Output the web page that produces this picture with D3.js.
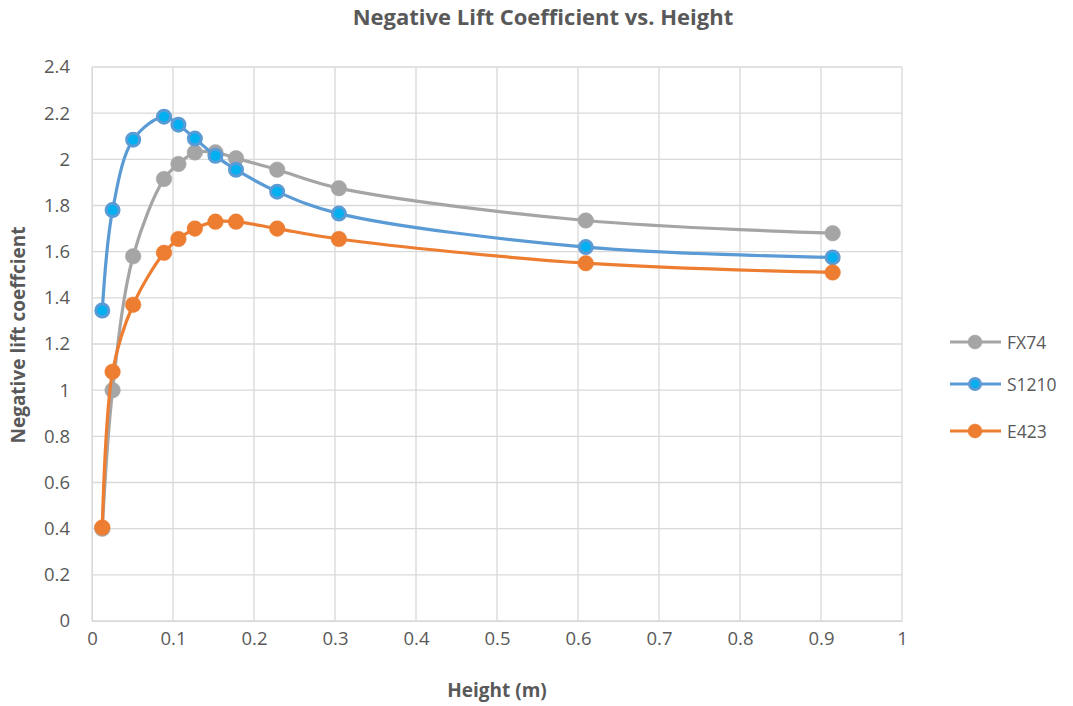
<!DOCTYPE html>
<html><head><meta charset="utf-8">
<script src="https://cdn.jsdelivr.net/npm/d3@7"></script>
<style>body{margin:0;background:#fff;} text{font-family:"Open Sans","Liberation Sans",sans-serif;}</style>
</head><body>
<svg id="c" width="1073" height="706"></svg>
<script>
const heights = [0.0127, 0.0254, 0.0508, 0.0889, 0.1067, 0.127, 0.1524, 0.1778, 0.2286, 0.3048, 0.6096, 0.9144];
const fx74  = [0.40, 1.00, 1.58, 1.915, 1.98, 2.03, 2.03, 2.005, 1.955, 1.875, 1.735, 1.68];
const s1210 = [1.345, 1.78, 2.085, 2.185, 2.15, 2.09, 2.015, 1.955, 1.86, 1.765, 1.62, 1.575];
const e423  = [0.405, 1.08, 1.37, 1.595, 1.655, 1.70, 1.73, 1.73, 1.70, 1.655, 1.55, 1.51];
const xTicks = [0,0.1,0.2,0.3,0.4,0.5,0.6,0.7,0.8,0.9,1];
const yTicks = [0,0.2,0.4,0.6,0.8,1,1.2,1.4,1.6,1.8,2,2.2,2.4];
const seriesNames = ["FX74","S1210","E423"];

const series = [
  {name:"FX74", vals:fx74, stroke:"#A5A5A5", fill:"#A5A5A5", mstroke:"#A5A5A5"},
  {name:"S1210", vals:s1210, stroke:"#5B9BD5", fill:"#00B0F0", mstroke:"#5B9BD5"},
  {name:"E423", vals:e423, stroke:"#ED7D31", fill:"#ED7D31", mstroke:"#ED7D31"}
];

const svg = d3.select("#c");
const L=92, R=902, T=67, B=621;
const x = d3.scaleLinear().domain([0,1]).range([L,R]);
const y = d3.scaleLinear().domain([0,2.4]).range([B,T]);
const grid="#D9D9D9", txt="#595959";

svg.append("g").selectAll("line").data(yTicks).join("line")
  .attr("x1",L).attr("x2",R).attr("y1",d=>y(d)).attr("y2",d=>y(d))
  .attr("stroke",grid).attr("stroke-width",1.3);
svg.append("g").selectAll("line").data(xTicks).join("line")
  .attr("y1",T).attr("y2",B).attr("x1",d=>x(d)).attr("x2",d=>x(d))
  .attr("stroke",grid).attr("stroke-width",1.3);

const xa = svg.append("g").attr("transform",`translate(0,${B})`)
  .call(d3.axisBottom(x).tickValues(xTicks).tickFormat(d=>d3.format("")(d)).tickSize(0).tickPadding(11));
xa.select(".domain").attr("stroke",grid);
xa.selectAll("text").attr("fill",txt).style("font-size","18.5px");
const ya = svg.append("g").attr("transform",`translate(${L},0)`)
  .call(d3.axisLeft(y).tickValues(yTicks).tickFormat(d=>d3.format("")(+d.toFixed(1))).tickSize(0).tickPadding(22));
ya.select(".domain").attr("stroke",grid);
ya.selectAll("text").attr("fill",txt).style("font-size","18.5px");

svg.append("text").attr("x",543).attr("y",25).attr("text-anchor","middle")
  .attr("fill",txt).style("font-size","22px").style("font-weight","bold")
  .text("Negative Lift Coefficient vs. Height");
svg.append("text").attr("x",497).attr("y",697).attr("text-anchor","middle")
  .attr("fill",txt).style("font-size","19px").style("font-weight","bold").text("Height (m)");
svg.append("text").attr("transform","translate(25,335) rotate(-90)").attr("text-anchor","middle")
  .attr("fill",txt).style("font-size","19px").style("font-weight","bold").text("Negative lift coeffcient");

const line = d3.line().x(d=>x(d[0])).y(d=>y(d[1])).curve(d3.curveCatmullRom.alpha(0.5));

series.forEach(s=>{
  const pts = heights.map((h,i)=>[h,s.vals[i]]);
  const g = svg.append("g");
  g.append("path").datum(pts).attr("d",line).attr("fill","none")
    .attr("stroke",s.stroke).attr("stroke-width",3.2);
  g.selectAll("circle").data(pts).join("circle")
    .attr("cx",d=>x(d[0])).attr("cy",d=>y(d[1])).attr("r",s.name==="S1210"?6.5:7.8)
    .attr("fill",s.fill).attr("stroke",s.mstroke).attr("stroke-width",s.name==="S1210"?3:0.5);
});

const legY = [342,384,431];
series.forEach((s,i)=>{
  const g = svg.append("g").attr("transform",`translate(0,${legY[i]})`);
  g.append("line").attr("x1",950).attr("x2",1001).attr("stroke",s.stroke).attr("stroke-width",3.2);
  g.append("circle").attr("cx",975).attr("r",s.name==="S1210"?5.5:7).attr("fill",s.fill)
    .attr("stroke",s.mstroke).attr("stroke-width",s.name==="S1210"?3:0.5);
  g.append("text").attr("x",1007).attr("y",7).attr("fill",txt).style("font-size","17.5px").text(seriesNames[i]);
});
</script>
</body></html>
